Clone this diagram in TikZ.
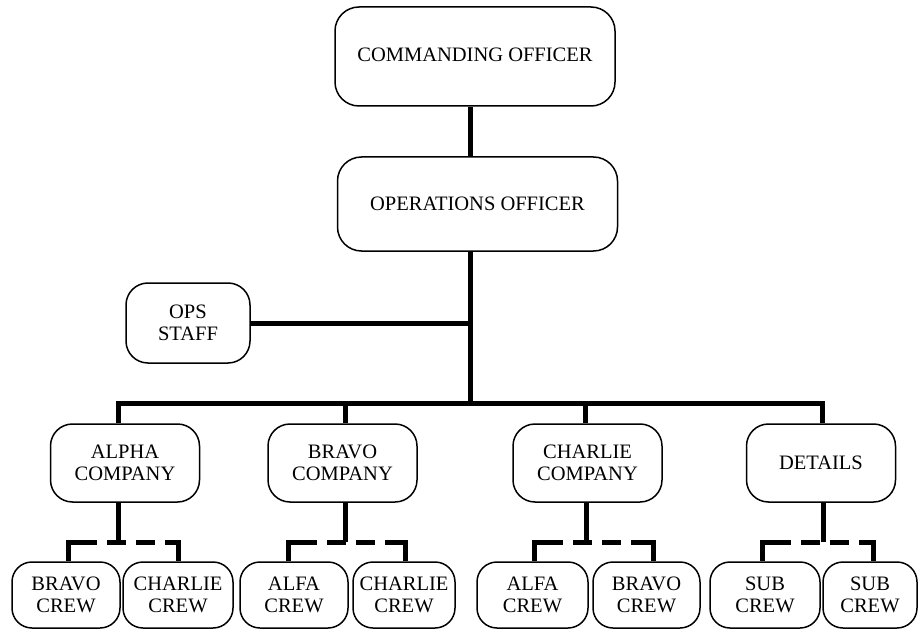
\documentclass[tikz,border=0pt]{standalone}
\usepackage{fontspec}
\setmainfont{Liberation Serif}
\begin{document}
\begin{tikzpicture}[x=1pt,y=-1pt,
  box/.style={draw=black,line width=1.5pt,rounded corners=22pt,align=center,inner sep=0pt,
    font=\fontsize{20.5}{22}\selectfont},
  bigbox/.style={box,minimum width=280pt,minimum height=96pt,rounded corners=24pt},
  combox/.style={box,minimum width=149pt,minimum height=78pt},
  crewbox/.style={box,minimum width=108pt,minimum height=66pt,rounded corners=20pt},
  thick line/.style={line width=5pt},
  dash line/.style={line width=5pt,dash pattern=on 19pt off 10pt}]
\fill[white] (0,0) rectangle (918,631);
\useasboundingbox (0,0) rectangle (918,631);
% top
\node[bigbox,minimum height=99pt] (co) at (475,56.5) {\raisebox{3pt}{COMMANDING OFFICER}};
\node[bigbox,minimum height=94pt] (ops) at (477.5,204) {OPERATIONS OFFICER};
\node[box,minimum width=124pt,minimum height=80pt] (staff) at (188,323) {OPS\\STAFF};
\coordinate (spine) at (470,403);
\draw[thick line] (co.south -| spine) -- (ops.north -| spine);
\draw[thick line] (ops.south -| spine) -- (spine);
\draw[thick line] (staff.east) -- (staff.east -| spine);
% companies
\node[combox] (alpha) at (125,463) {ALPHA\\COMPANY};
\node[combox] (bravo) at (342.5,463) {BRAVO\\COMPANY};
\node[combox] (charlie) at (587.5,463) {CHARLIE\\COMPANY};
\node[combox] (details) at (821,463) {DETAILS};
\coordinate (bA) at (118,403);
\coordinate (bB) at (345,403);
\coordinate (bC) at (585,403);
\coordinate (bD) at (822,403);
\draw[thick line,line cap=rect] (bA) -- (bD);
\draw[thick line] (bA) -- (bA |- alpha.north);
\draw[thick line] (bB) -- (bB |- bravo.north);
\draw[thick line] (bC) -- (bC |- charlie.north);
\draw[thick line] (bD) -- (bD |- details.north);
% crews
\node[crewbox] (a1) at (66,595) {BRAVO\\CREW};
\node[crewbox,minimum width=110pt] (a2) at (178,595) {CHARLIE\\CREW};
\node[crewbox] (b1) at (294,595) {ALFA\\CREW};
\node[crewbox,minimum width=102pt] (b2) at (404,595) {CHARLIE\\CREW};
\node[crewbox,minimum width=111pt] (c1) at (532.5,595) {ALFA\\CREW};
\node[crewbox,minimum width=107pt] (c2) at (646.5,595) {BRAVO\\CREW};
\node[crewbox,minimum width=110pt] (d1) at (765,595) {SUB\\CREW};
\node[crewbox,minimum width=94pt] (d2) at (870,595) {SUB\\CREW};
% lower connectors
\foreach \pn/\x/\lc/\lx/\rc/\rx in {alpha/118/a1/68/a2/178, bravo/345/b1/288/b2/405,
   charlie/586/c1/534/c2/653, details/823/d1/762/d2/873}{
  \coordinate (j) at (\x,542);
  \coordinate (L) at (\lx,542);
  \coordinate (R) at (\rx,542);
  \draw[thick line] (\pn.south -| j) -- (j);
  \draw[thick line,line join=miter] ([xshift=10pt]L) -- (L) -- (\lc.north -| L);
  \draw[thick line,line join=miter] ([xshift=-10pt]R) -- (R) -- (\rc.north -| R);
  \draw[dash line] ([xshift=10pt]L) -- ([xshift=-10pt]R);
}
\end{tikzpicture}
\end{document}
